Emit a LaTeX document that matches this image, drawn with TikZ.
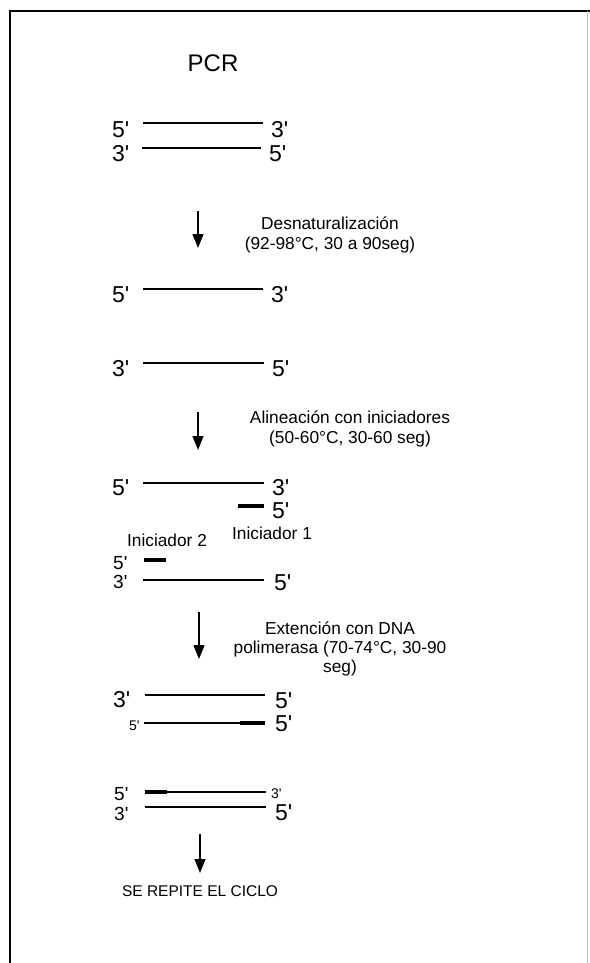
\documentclass[tikz,border=0pt]{standalone}
\usepackage{fontspec}
\newfontfamily\lab{Liberation Sans}
\usetikzlibrary{arrows.meta}
\begin{document}
\begin{tikzpicture}[x=1pt,y=-1pt,
  big/.style={inner sep=0pt,anchor=base west,text height=.72em,text depth=0pt,font=\lab\fontsize{23}{23}\selectfont},
  mid/.style={big,font=\lab\fontsize{19}{19}\selectfont},
  sml/.style={inner sep=0pt,anchor=base west,text height=.72em,text depth=0pt,font=\lab\fontsize{14}{14}\selectfont},
  lbl/.style={inner sep=0pt,align=center,font=\lab\fontsize{17.3}{20}\selectfont},
  strand/.style={line width=1.6pt},
  primer/.style={line width=4pt},
  stepar/.style={line width=1.3pt,-{Triangle[width=11pt,length=14pt]}}]
\useasboundingbox (0,0) rectangle (589,963);
% frame
\draw[line width=2.4pt] (10,966) -- (10,11) -- (592,11);
\draw[line width=0.8pt,black!25] (587,11) -- (587,963);
% title
\node[inner sep=0pt,font=\lab\fontsize{24}{24}\selectfont] (title) at (213,63) {PCR};
% row 1 and 2
\node[big] (r1l) at (112,137) {5'};
\node[big] (r1r) at (271,137) {3'};
\coordinate (r1a) at (143,123); \coordinate (r1b) at (263,123);
\draw[strand] (r1a) -- (r1b);
\node[big] (r2l) at (112,161) {3'};
\node[big] (r2r) at (269,161) {5'};
\coordinate (r2a) at (142,148); \coordinate (r2b) at (261,148);
\draw[strand] (r2a) -- (r2b);
% arrow 1
\coordinate (a1s) at (198,211); \coordinate (a1e) at (198,248);
\draw[stepar] (a1s) -- (a1e);
\node[lbl] (t1) at (330,235) {Desnaturalización\\(92-98°C, 30 a 90seg)};
% row 3 and 4
\node[big] (r3l) at (112,302) {5'};
\node[big] (r3r) at (271,302) {3'};
\coordinate (r3a) at (143,289); \coordinate (r3b) at (263,289);
\draw[strand] (r3a) -- (r3b);
\node[big] (r4l) at (112,376) {3'};
\node[big] (r4r) at (272,376) {5'};
\coordinate (r4a) at (143,363); \coordinate (r4b) at (264,363);
\draw[strand] (r4a) -- (r4b);
% arrow 2
\coordinate (a2s) at (198,412); \coordinate (a2e) at (198,450);
\draw[stepar] (a2s) -- (a2e);
\node[lbl] (t2) at (350,429) {Alineación con iniciadores\\(50-60°C, 30-60 seg)};
% row 5 with primer 1
\node[big] (r5l) at (112,495) {5'};
\node[big] (r5r) at (272,495) {3'};
\coordinate (r5a) at (143,483); \coordinate (r5b) at (264,483);
\draw[strand] (r5a) -- (r5b);
\coordinate (p1a) at (238,506); \coordinate (p1b) at (264,506);
\draw[primer] (p1a) -- (p1b);
\node[big] (p1r) at (272,518) {5'};
\node[lbl] (i1) at (272,533) {Iniciador 1};
\node[lbl] (i2) at (167,540) {Iniciador 2};
% primer 2 and row 7
\node[mid] (p2l) at (113,569) {5'};
\coordinate (p2a) at (144,560); \coordinate (p2b) at (166,560);
\draw[primer] (p2a) -- (p2b);
\node[mid] (r7l) at (113,588) {3'};
\node[big] (r7r) at (274,590) {5'};
\coordinate (r7a) at (143,580); \coordinate (r7b) at (264,580);
\draw[strand] (r7a) -- (r7b);
% arrow 3
\coordinate (a3s) at (199,612); \coordinate (a3e) at (199,659);
\draw[stepar] (a3s) -- (a3e);
\node[lbl,font=\lab\fontsize{17.3}{19}\selectfont] (t3) at (340,649) {Extención con DNA\\polimerasa (70-74°C, 30-90\\seg)};
% row 8 and 9
\node[big] (r8l) at (113,707) {3'};
\node[big] (r8r) at (275,708) {5'};
\coordinate (r8a) at (145,695); \coordinate (r8b) at (265,695);
\draw[strand] (r8a) -- (r8b);
\node[sml] (r9l) at (129,730) {5'};
\coordinate (r9a) at (144,723); \coordinate (r9b) at (265,723); \coordinate (r9c) at (240,723);
\draw[strand] (r9a) -- (r9b);
\draw[primer] (r9c) -- (r9b);
\node[big] (r9r) at (275,731) {5'};
% row 10 and 11
\node[mid] (r10l) at (114,800) {5'};
\node[sml] (r10r) at (271,798) {3'};
\coordinate (r10a) at (145,792); \coordinate (r10b) at (266,792); \coordinate (r10c) at (167,792);
\draw[strand] (r10a) -- (r10b);
\draw[primer] (r10a) -- (r10c);
\node[mid] (r11l) at (114,820) {3'};
\node[big] (r11r) at (275,820) {5'};
\coordinate (r11a) at (145,807); \coordinate (r11b) at (266,807);
\draw[strand] (r11a) -- (r11b);
% arrow 4
\coordinate (a4s) at (200,834); \coordinate (a4e) at (200,873);
\draw[stepar] (a4s) -- (a4e);
\node[inner sep=0pt,font=\lab\fontsize{15.5}{16}\selectfont] (rep) at (200,891) {SE REPITE EL CICLO};
\end{tikzpicture}
\end{document}
